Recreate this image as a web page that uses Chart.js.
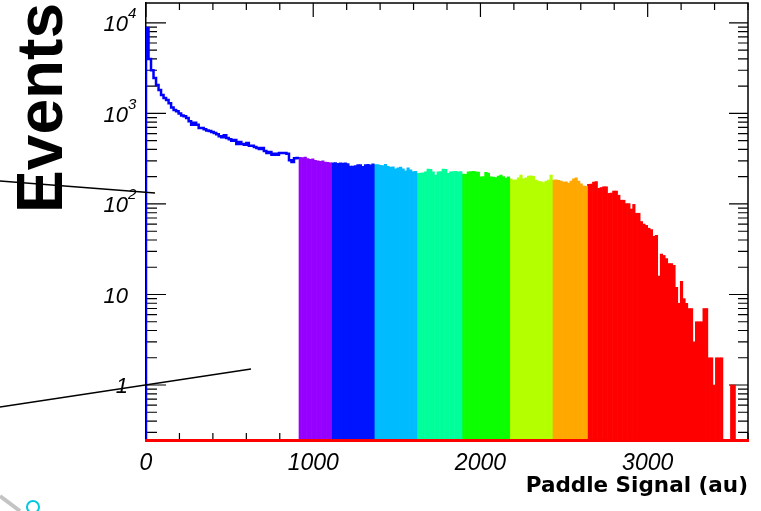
<!DOCTYPE html>
<html>
<head>
<meta charset="utf-8">
<title>Paddle Signal</title>
<script src="https://cdn.jsdelivr.net/npm/chart.js@4.4.1/dist/chart.umd.min.js"></script>
<style>
  html, body { margin: 0; padding: 0; background: #fff; }
  #wrap { position: relative; width: 761px; height: 511px; }
</style>
</head>
<body>
<div id="wrap"><canvas id="myChart"></canvas></div>
<script>
// histogram binning (au per bin)
var binWidth = 15;

// low-signal part, drawn as blue outline only (bins 0..60)
var outlineCounts = [
  8800, 4000, 3000, 2470, 2060, 1820, 1600, 1480, 1410, 1300,
  1160, 1090, 1060, 1000, 950, 930, 890, 820, 750, 790,
  750, 690, 690, 670, 650, 640, 625, 610, 590, 560,
  545, 575, 536, 520, 500, 510, 460, 485, 460, 450,
  472, 440, 440, 425, 416, 405, 416, 385, 366, 375,
  350, 358, 350, 366, 366, 366, 358, 305, 290, 320,
  322
];

// filled part, one array per colour band
var purpleCounts = [328, 325, 330, 318, 312, 315, 304, 300, 296, 299, 291, 289, 285];
var blueCounts = [284, 286, 282, 285, 283, 284, 280, 263, 262, 265, 273, 272, 261, 273, 274, 271, 278];
var skyCounts = [273, 272, 267, 266, 274, 261, 256, 257, 244, 250, 256, 244, 233, 250, 239, 228, 229];
var springCounts = [218, 220, 221, 226, 243, 242, 226, 208, 226, 228, 243, 242, 218, 226, 228, 229, 226, 228];
var greenCounts = [214, 213, 226, 228, 229, 226, 225, 199, 201, 223, 220, 199, 198, 196, 203, 208, 201, 193, 199];
var limeCounts = [189, 184, 185, 194, 208, 189, 194, 203, 204, 202, 184, 179, 177, 172, 179, 184, 208];
var orangeCounts = [184, 185, 183, 179, 175, 176, 170, 179, 189, 194, 179, 167, 158, 157];
var redCounts = [
  165, 166, 175, 177, 149, 152, 155, 155, 131, 132,
  139, 139, 125, 110, 110, 101, 101, 88, 99, 79,
  79, 64, 60, 58, 54, 52, 44, 45, 16, 28,
  27, 25, 22, 22, 21, 12, 8, 14, 9, 8,
  7, 7, 3, 5, 5, 5, 7, 7, 2, 2,
  1, 2, 2, 2, 0, 0, 0, 1, 1
];

var bandCounts = [purpleCounts, blueCounts, skyCounts, springCounts, greenCounts, limeCounts, orangeCounts, redCounts];
var bandColors = ["#9600ff", "#0014ff", "#00bcff", "#00ff9a", "#0cff00", "#b4ff00", "#ffa800", "#ff0000"];

var xTicks = [0, 1000, 2000, 3000];
var yTicks = [1, 10, 100, 1000, 10000];
var xMax = 3600;
var yMin = 0.247;
var yMax = 16600;

var fontFamily = "'Liberation Sans', Arial, Helvetica, sans-serif";

// bars: each band continues right after the previous one
var datasets = [];
var firstBin = outlineCounts.length;
for (var b = 0; b < bandCounts.length; b++) {
  var pts = [];
  for (var j = 0; j < bandCounts[b].length; j++) {
    var c = bandCounts[b][j];
    pts.push({ x: (firstBin + j + 0.5) * binWidth, y: c > 0 ? c : null });
  }
  firstBin += bandCounts[b].length;
  datasets.push({
    type: "bar",
    data: pts,
    backgroundColor: bandColors[b],
    borderWidth: 0,
    barPercentage: 1,
    categoryPercentage: 1,
    grouped: false,
    order: 2
  });
}

// blue step outline, starting from the bottom of the axis
var outline = [{ x: 0, y: yMin }];
for (var i = 0; i < outlineCounts.length; i++) {
  outline.push({ x: i * binWidth, y: outlineCounts[i] });
}
outline.push({ x: outlineCounts.length * binWidth, y: outlineCounts[outlineCounts.length - 1] });
datasets.push({
  type: "line",
  data: outline,
  borderColor: "#0000ff",
  borderWidth: 2.5,
  pointRadius: 0,
  stepped: true,
  fill: false,
  order: 1
});

// no extra room around the axes, the frame sits on the layout padding
function noScalePadding(s) {
  s.paddingTop = 0;
  s.paddingBottom = 0;
  s.paddingLeft = 0;
  s.paddingRight = 0;
}

// frame, inward ticks, exponents, guide lines and the corner logo
var frameTicks = {
  id: "frameTicks",
  beforeDatasetsDraw: function (chart) {
    var ctx = chart.ctx, a = chart.chartArea, x = chart.scales.x, y = chart.scales.y;
    ctx.save();
    ctx.strokeStyle = "#000";
    ctx.lineWidth = 1.5;
    ctx.beginPath();
    ctx.moveTo(a.left, a.top);
    ctx.lineTo(a.right, a.top);
    ctx.lineTo(a.right, a.bottom);
    ctx.stroke();

    ctx.lineWidth = 1.2;
    ctx.beginPath();
    for (var v = 0; v <= xMax; v += 200) {
      var px = x.getPixelForValue(v);
      var len = v % 1000 === 0 ? 14 : 7;
      ctx.moveTo(px, a.bottom);
      ctx.lineTo(px, a.bottom - len);
      ctx.moveTo(px, a.top);
      ctx.lineTo(px, a.top + len);
    }
    for (var e = -1; e <= 4; e++) {
      for (var k = 1; k < 10; k++) {
        var val = k * Math.pow(10, e);
        if (val < yMin || val > yMax) continue;
        var py = y.getPixelForValue(val);
        var l = k === 1 ? 20 : 11;
        ctx.moveTo(a.left, py);
        ctx.lineTo(a.left + l, py);
        ctx.moveTo(a.right, py);
        ctx.lineTo(a.right - l + 1, py);
      }
    }
    ctx.stroke();
    ctx.restore();
  },
  afterDraw: function (chart) {
    var ctx = chart.ctx, a = chart.chartArea, y = chart.scales.y;
    ctx.save();
    ctx.fillStyle = "#000";
    ctx.font = "italic 15px " + fontFamily;
    ctx.textAlign = "left";
    ctx.textBaseline = "middle";
    yTicks.forEach(function (v) {
      var p = Math.round(Math.log10(v));
      if (p >= 2) ctx.fillText(String(p), a.left - 18, y.getPixelForValue(v) - 9);
    });

    ctx.strokeStyle = "#000";
    ctx.lineWidth = 1.3;
    ctx.beginPath();
    ctx.moveTo(0, 181);
    ctx.lineTo(155, 193);
    ctx.moveTo(0, 407);
    ctx.lineTo(251, 369);
    ctx.stroke();

    // bit of a logo cut by the bottom-left corner
    ctx.strokeStyle = "#c4c4c4";
    ctx.lineWidth = 4;
    ctx.beginPath();
    ctx.moveTo(0, 496);
    ctx.lineTo(20, 511);
    ctx.stroke();
    ctx.strokeStyle = "#00c8e0";
    ctx.lineWidth = 2;
    ctx.beginPath();
    ctx.arc(33, 507, 6, 0, Math.PI * 2);
    ctx.stroke();
    ctx.restore();
  }
};

new Chart("myChart", {
  data: { datasets: datasets },
  options: {
    responsive: true,
    maintainAspectRatio: false,
    animation: false,
    layout: { padding: { top: 3, right: 13, left: 0, bottom: 0 } },
    plugins: { legend: { display: false }, tooltip: { enabled: false } },
    scales: {
      x: {
        type: "linear",
        min: 0,
        max: xMax,
        offset: false,
        afterBuildTicks: function (s) { s.ticks = xTicks.map(function (v) { return { value: v }; }); },
        afterFit: function (s) { s.height = 71; noScalePadding(s); },
        grid: { display: false, drawTicks: false },
        border: { display: true, color: "#ff0000", width: 3, z: 1 },
        ticks: {
          color: "#000",
          padding: 10,
          maxRotation: 0,
          autoSkip: false,
          font: { family: fontFamily, size: 23, style: "italic" },
          callback: function (v) { return String(v); }
        },
        title: {
          display: true,
          text: "Paddle Signal (au)",
          align: "end",
          color: "#000",
          font: { family: "'DejaVu Sans', " + fontFamily, size: 21.5, weight: "bold", lineHeight: 1 },
          padding: { top: 0, bottom: 14 }
        }
      },
      y: {
        type: "logarithmic",
        min: yMin,
        max: yMax,
        afterBuildTicks: function (s) { s.ticks = yTicks.map(function (v) { return { value: v }; }); },
        afterFit: function (s) { s.width = 146; noScalePadding(s); },
        grid: { display: false, drawTicks: false },
        border: { display: true, color: "#000", width: 1.5 },
        ticks: {
          color: "#000",
          padding: 18,
          labelOffset: 2,
          autoSkip: false,
          font: { family: fontFamily, size: 22, style: "italic" },
          callback: function (v) { return v >= 100 ? "10" : String(v); }
        },
        title: {
          display: true,
          text: "Events",
          align: "end",
          color: "#000",
          font: { family: fontFamily, size: 64, weight: "bold", lineHeight: 1 },
          padding: { top: 12, bottom: 0 }
        }
      }
    }
  },
  plugins: [frameTicks]
});
</script>
</body>
</html>
